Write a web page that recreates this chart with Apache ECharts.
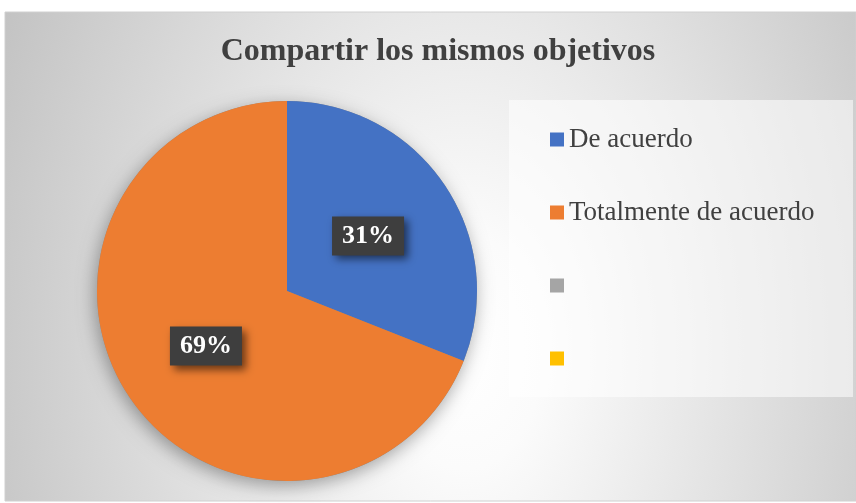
<!DOCTYPE html>
<html>
<head>
<meta charset="utf-8">
<script src="https://cdn.jsdelivr.net/npm/echarts@6/dist/echarts.min.js"></script>
<style>
  html, body { margin: 0; padding: 0; background: #fff; }
  #chart { width: 856px; height: 503px; }
</style>
</head>
<body>
<div id="chart"></div>
<script>
// datos del gráfico
const categories = ['De acuerdo', 'Totalmente de acuerdo', ' ', '  '];
const values = [31, 69, 0, 0];
const colors = ['#4472C4', '#ED7D31', '#A5A5A5', '#FFC000'];
const titleText = 'Compartir los mismos objetivos';

const serif = '"Liberation Serif", "Times New Roman", serif';

const chart = echarts.init(document.getElementById('chart'));

let dataList = [];
categories.map((name, i) => {
    dataList.push({
        name: name,
        value: values[i],
        itemStyle: { color: colors[i] },
        label: { show: values[i] > 0 }
    });
    return 1;
});

// el degradado es elíptico: se dibuja comprimido y se estira en vertical
const stretch = 1.5;

const option = {
    animation: false,
    color: colors,
    graphic: [
        {
            // fondo del área del gráfico
            type: 'rect', z: -10, silent: true,
            x: 5, y: 12, scaleY: stretch,
            shape: { x: 0, y: 0, width: 851, height: 489 / stretch },
            style: {
                fill: {
                    type: 'radial', global: true,
                    x: 460, y: 340 / stretch, r: 520,
                    colorStops: [
                        { offset: 0, color: '#ffffff' },
                        { offset: 0.15, color: '#fbfbfb' },
                        { offset: 1, color: '#c2c2c2' }
                    ]
                }
            }
        },
        {
            type: 'rect', z: -9, silent: true,
            shape: { x: 5, y: 12, width: 851, height: 489 },
            style: { fill: 'none', stroke: '#d0d0d0', lineWidth: 1 }
        },
        {
            // caja de la leyenda
            type: 'rect', z: -5, silent: true,
            shape: { x: 509, y: 100, width: 344, height: 297 },
            style: { fill: 'rgba(255,255,255,0.55)' }
        }
    ],
    title: {
        text: titleText,
        left: 433,
        top: 31,
        textAlign: 'center',
        textStyle: {
            fontFamily: serif,
            fontSize: 32,
            fontWeight: 'bold',
            color: '#404040'
        }
    },
    legend: {
        orient: 'vertical',
        left: 550,
        top: 126,
        padding: 0,
        itemGap: 46,
        itemWidth: 14,
        itemHeight: 14,
        icon: 'rect',
        data: categories,
        formatter: name => name.trim() ? name : '\u00a0',
        textStyle: {
            fontFamily: serif,
            fontSize: 27,
            lineHeight: 26,
            color: '#404040'
        }
    },
    series: [
        {
            // sombra del pastel
            type: 'pie',
            silent: true,
            center: [287, 291],
            radius: 190,
            z: 1,
            label: { show: false },
            labelLine: { show: false },
            itemStyle: {
                color: '#888',
                shadowBlur: 18,
                shadowOffsetX: -2,
                shadowOffsetY: 5,
                shadowColor: 'rgba(0,0,0,0.35)'
            },
            data: [{ name: 'sombra', value: 1 }],
            legendHoverLink: false
        },
        {
            name: titleText,
            type: 'pie',
            center: [287, 291],
            radius: 190,
            z: 2,
            startAngle: 90,
            clockwise: true,
            itemStyle: { borderWidth: 0 },
            label: {
                position: 'inside',
                formatter: p => Math.round(p.percent) + '%',
                fontFamily: serif,
                fontSize: 26,
                fontWeight: 'bold',
                color: '#ffffff',
                backgroundColor: '#3e3e3e',
                padding: [7, 10, 6, 10],
                shadowColor: 'rgba(0,0,0,0.55)',
                shadowBlur: 8,
                shadowOffsetX: 4,
                shadowOffsetY: 4
            },
            labelLine: { show: false },
            data: dataList
        }
    ]
};

chart.setOption(option);
</script>
</body>
</html>
